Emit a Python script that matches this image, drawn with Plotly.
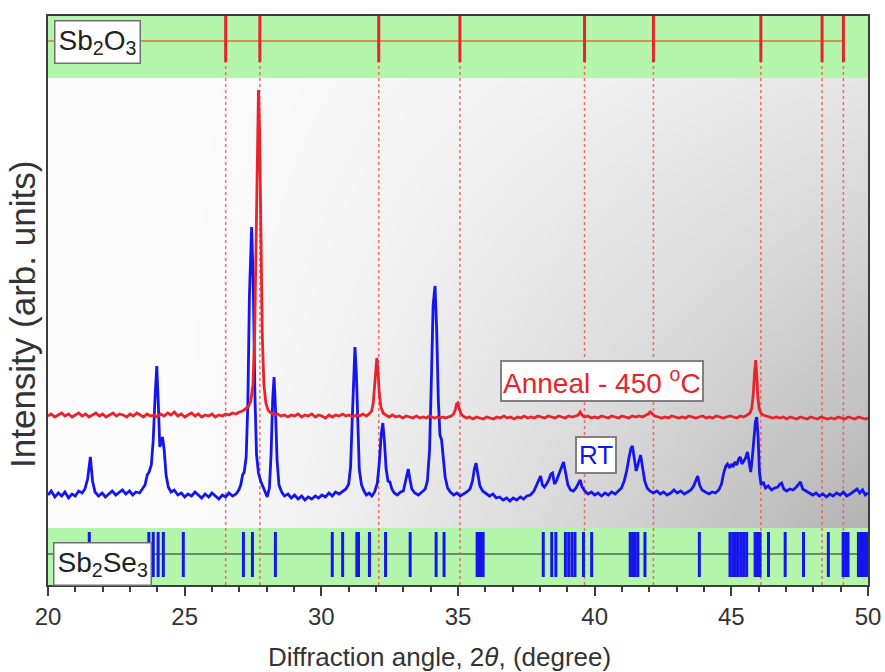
import base64
import struct
import zlib

import numpy as np
import plotly.graph_objects as go

# ---------------------------------------------------------------------------
# Data: XRD patterns (2-theta in degrees, intensity in arbitrary units,
# each pattern already carries its vertical display offset)
# ---------------------------------------------------------------------------
rt_angle = [
    20.00, 20.12, 20.25, 20.38, 20.50, 20.62, 20.75, 20.88, 21.00, 21.12, 21.25, 21.35, 21.45, 21.55, 21.63,
    21.72, 21.85, 21.98, 22.10, 22.22, 22.35, 22.48, 22.60, 22.72, 22.85, 22.98, 23.10, 23.22, 23.35, 23.45,
    23.55, 23.63, 23.70, 23.78, 23.85, 23.92, 23.98, 24.04, 24.09, 24.13, 24.19, 24.25, 24.32, 24.40, 24.50,
    24.62, 24.75, 24.88, 25.00, 25.12, 25.25, 25.38, 25.50, 25.62, 25.75, 25.88, 26.00, 26.12, 26.25, 26.38,
    26.50, 26.62, 26.75, 26.88, 26.98, 27.05, 27.12, 27.18, 27.25, 27.31, 27.37, 27.45, 27.51, 27.57, 27.63,
    27.70, 27.78, 27.87, 27.95, 28.02, 28.10, 28.16, 28.22, 28.27, 28.32, 28.38, 28.45, 28.55, 28.65, 28.78,
    28.90, 29.02, 29.15, 29.28, 29.40, 29.52, 29.65, 29.78, 29.90, 30.02, 30.15, 30.28, 30.40, 30.52, 30.65,
    30.78, 30.90, 31.00, 31.07, 31.13, 31.18, 31.23, 31.28, 31.33, 31.39, 31.47, 31.56, 31.65, 31.75, 31.85,
    31.95, 32.05, 32.12, 32.19, 32.25, 32.31, 32.37, 32.44, 32.51, 32.58, 32.67, 32.78, 32.90, 33.00, 33.07,
    33.13, 33.18, 33.24, 33.31, 33.42, 33.55, 33.68, 33.80, 33.88, 33.96, 34.03, 34.09, 34.16, 34.22, 34.28,
    34.34, 34.40, 34.46, 34.53, 34.62, 34.72, 34.84, 34.96, 35.08, 35.20, 35.32, 35.44, 35.53, 35.60, 35.66,
    35.72, 35.80, 35.90, 36.02, 36.15, 36.28, 36.40, 36.52, 36.65, 36.78, 36.90, 37.02, 37.15, 37.28, 37.40,
    37.52, 37.65, 37.78, 37.88, 37.95, 38.02, 38.09, 38.16, 38.24, 38.32, 38.40, 38.46, 38.53, 38.60, 38.68,
    38.76, 38.86, 38.94, 39.02, 39.12, 39.22, 39.32, 39.40, 39.47, 39.54, 39.64, 39.76, 39.88, 40.00, 40.12,
    40.25, 40.38, 40.50, 40.62, 40.75, 40.88, 40.98, 41.08, 41.17, 41.26, 41.33, 41.38, 41.45, 41.52, 41.60,
    41.68, 41.75, 41.83, 41.92, 42.02, 42.15, 42.28, 42.40, 42.52, 42.65, 42.78, 42.90, 43.02, 43.15, 43.28,
    43.40, 43.52, 43.62, 43.70, 43.77, 43.84, 43.93, 44.05, 44.18, 44.30, 44.42, 44.54, 44.64, 44.72, 44.80,
    44.86, 44.93, 45.00, 45.06, 45.13, 45.20, 45.27, 45.33, 45.39, 45.45, 45.52, 45.59, 45.65, 45.71, 45.77,
    45.83, 45.88, 45.93, 45.98, 46.03, 46.09, 46.17, 46.25, 46.35, 46.47, 46.58, 46.70, 46.78, 46.84, 46.92,
    47.02, 47.14, 47.26, 47.38, 47.47, 47.53, 47.61, 47.72, 47.85, 47.98, 48.10, 48.22, 48.35, 48.48, 48.60,
    48.72, 48.85, 48.98, 49.10, 49.22, 49.35, 49.48, 49.60, 49.70, 49.80, 49.90, 50.00,
]
rt_counts = [
    90, 94, 88, 92, 89, 93, 87, 91, 89, 94, 92, 96, 106, 128, 104,
    93, 89, 92, 88, 91, 94, 90, 93, 95, 91, 94, 90, 93, 92, 96,
    100, 110, 113, 120, 145, 190, 219, 178, 138, 142, 148, 135, 110, 98, 93,
    95, 90, 92, 88, 91, 89, 93, 90, 87, 91, 88, 92, 89, 86, 90,
    88, 92, 89, 91, 95, 100, 110, 113, 128, 180, 290, 358, 300, 190, 130,
    112, 104, 98, 92, 88, 97, 130, 185, 208, 178, 125, 100, 93, 89, 91,
    87, 90, 86, 89, 85, 88, 86, 89, 87, 90, 88, 92, 89, 93, 91,
    94, 96, 101, 118, 165, 215, 238, 212, 155, 115, 100, 94, 90, 92, 89,
    93, 102, 122, 150, 162, 143, 116, 104, 103, 96, 92, 90, 93, 94, 102,
    112, 116, 106, 96, 92, 90, 93, 96, 104, 135, 210, 280, 299, 255, 185,
    150, 145, 128, 108, 97, 93, 90, 92, 89, 91, 93, 96, 104, 116, 122,
    112, 99, 94, 92, 89, 91, 87, 88, 85, 87, 84, 87, 85, 88, 86,
    89, 90, 94, 100, 106, 109, 100, 98, 101, 105, 111, 112, 101, 104, 110,
    116, 123, 112, 100, 95, 94, 97, 102, 105, 98, 94, 91, 93, 90, 92,
    89, 92, 90, 93, 91, 94, 97, 104, 114, 128, 137, 139, 124, 114, 122,
    130, 118, 104, 97, 94, 92, 94, 91, 93, 90, 92, 95, 92, 94, 91,
    93, 95, 99, 105, 109, 100, 95, 93, 91, 93, 92, 95, 101, 112, 119,
    121, 117, 121, 118, 123, 120, 126, 128, 121, 124, 127, 133, 124, 113, 128,
    150, 163, 168, 148, 112, 100, 103, 97, 99, 95, 97, 98, 101, 102, 96,
    94, 96, 95, 98, 101, 103, 96, 94, 92, 90, 92, 89, 91, 88, 91,
    89, 92, 90, 93, 89, 91, 94, 96, 92, 95, 90, 92,
]

anneal_angle = [
    20.00, 20.12, 20.25, 20.38, 20.50, 20.62, 20.75, 20.88, 21.00, 21.12, 21.25, 21.38, 21.50, 21.62, 21.75,
    21.88, 22.00, 22.12, 22.25, 22.38, 22.50, 22.62, 22.75, 22.88, 23.00, 23.12, 23.25, 23.38, 23.50, 23.62,
    23.75, 23.88, 24.00, 24.12, 24.25, 24.38, 24.50, 24.62, 24.75, 24.88, 25.00, 25.12, 25.25, 25.38, 25.50,
    25.62, 25.75, 25.88, 26.00, 26.12, 26.25, 26.38, 26.50, 26.62, 26.75, 26.88, 27.00, 27.12, 27.22, 27.32,
    27.42, 27.50, 27.56, 27.62, 27.67, 27.70, 27.74, 27.79, 27.84, 27.90, 27.97, 28.05, 28.15, 28.27, 28.40,
    28.52, 28.65, 28.78, 28.90, 29.02, 29.15, 29.28, 29.40, 29.52, 29.65, 29.78, 29.90, 30.02, 30.15, 30.28,
    30.40, 30.52, 30.65, 30.78, 30.90, 31.02, 31.15, 31.28, 31.40, 31.52, 31.65, 31.75, 31.84, 31.90, 31.95,
    32.00, 32.03, 32.07, 32.12, 32.18, 32.26, 32.36, 32.48, 32.60, 32.72, 32.85, 32.98, 33.10, 33.22, 33.35,
    33.48, 33.60, 33.72, 33.85, 33.95, 34.05, 34.15, 34.25, 34.35, 34.45, 34.55, 34.65, 34.75, 34.84, 34.90,
    34.95, 34.99, 35.04, 35.10, 35.18, 35.30, 35.42, 35.55, 35.68, 35.80, 35.92, 36.05, 36.18, 36.30, 36.42,
    36.55, 36.68, 36.80, 36.92, 37.05, 37.18, 37.30, 37.42, 37.55, 37.68, 37.80, 37.92, 38.05, 38.18, 38.30,
    38.42, 38.55, 38.68, 38.80, 38.92, 39.05, 39.18, 39.30, 39.40, 39.47, 39.54, 39.62, 39.75, 39.88, 40.00,
    40.12, 40.25, 40.38, 40.50, 40.62, 40.75, 40.88, 41.00, 41.12, 41.25, 41.38, 41.50, 41.62, 41.75, 41.88,
    41.96, 42.03, 42.10, 42.20, 42.32, 42.45, 42.58, 42.70, 42.82, 42.95, 43.08, 43.20, 43.32, 43.45, 43.58,
    43.70, 43.82, 43.95, 44.08, 44.20, 44.32, 44.45, 44.58, 44.70, 44.82, 44.95, 45.08, 45.20, 45.32, 45.45,
    45.58, 45.68, 45.75, 45.80, 45.85, 45.89, 45.93, 45.97, 46.02, 46.08, 46.16, 46.28, 46.40, 46.52, 46.65,
    46.78, 46.90, 47.02, 47.15, 47.28, 47.40, 47.52, 47.65, 47.78, 47.90, 48.02, 48.15, 48.28, 48.40, 48.52,
    48.65, 48.78, 48.90, 49.02, 49.15, 49.28, 49.40, 49.52, 49.65, 49.78, 49.90, 50.00,
]
anneal_counts = [
    169, 171, 168, 170, 172, 169, 171, 168, 170, 172, 169, 171, 168, 170, 172,
    169, 171, 168, 170, 172, 169, 171, 170, 168, 171, 169, 172, 170, 168, 171,
    169, 170, 168, 171, 169, 172, 170, 173, 169, 171, 168, 170, 172, 169, 171,
    168, 170, 169, 171, 168, 170, 169, 171, 170, 172, 171, 173, 174, 176, 178,
    184, 200, 250, 360, 460, 495, 455, 350, 250, 200, 182, 175, 172, 170, 171,
    169, 170, 168, 170, 169, 171, 168, 170, 169, 171, 168, 170, 169, 167, 170,
    168, 170, 169, 171, 169, 170, 168, 170, 169, 171, 169, 171, 174, 182, 200,
    222, 227, 215, 192, 178, 172, 170, 168, 170, 168, 169, 167, 169, 168, 167,
    169, 167, 168, 167, 169, 168, 167, 168, 167, 168, 167, 168, 169, 171, 175,
    181, 182, 177, 172, 169, 167, 168, 166, 168, 167, 166, 168, 167, 166, 168,
    167, 169, 167, 168, 166, 168, 167, 169, 167, 168, 167, 169, 168, 167, 169,
    168, 167, 169, 168, 167, 169, 168, 169, 170, 173, 170, 168, 169, 167, 168,
    167, 169, 168, 167, 169, 168, 167, 169, 168, 167, 169, 168, 169, 168, 170,
    171, 173, 171, 169, 168, 167, 168, 167, 169, 168, 167, 168, 167, 169, 168,
    167, 168, 169, 167, 168, 167, 169, 168, 167, 168, 169, 168, 167, 169, 168,
    170, 172, 177, 190, 212, 225, 210, 188, 176, 172, 170, 169, 168, 167, 168,
    167, 168, 166, 168, 167, 166, 168, 167, 166, 168, 167, 166, 168, 167, 166,
    167, 166, 168, 167, 166, 168, 167, 166, 168, 167, 166, 167,
]

# Reference line positions (2-theta, degrees)
sb2o3_ref = [26.50, 27.75, 32.10, 35.07, 39.63, 42.15, 46.08, 48.32, 49.10]
sb2se3_ref = [
    23.69, 23.85, 24.03, 24.22, 24.95, 27.15, 27.48, 28.32, 30.40, 30.78,
    31.30, 31.36, 31.76, 32.35, 33.25, 34.20, 34.49, 35.70, 35.77, 35.84,
    35.92, 38.12, 38.43, 38.58, 38.93, 39.05, 39.17, 39.28, 39.59, 39.89,
    41.30, 41.39, 41.48, 41.58, 41.84, 43.83, 44.95, 45.05, 45.15, 45.25,
    45.35, 45.45, 45.56, 45.87, 45.96, 46.05, 46.36, 46.97, 47.64, 48.55,
    49.09, 49.18, 49.27, 49.65, 49.73, 49.81, 49.89, 49.97,
]
sb2se3_ref_weak = [21.51]

x_ticks = [20, 25, 30, 35, 40, 45, 50]

# ---------------------------------------------------------------------------
# Layout constants (y axis is in the same arbitrary units as the patterns)
# ---------------------------------------------------------------------------
Y_MAX = 569
TOP_BAND = (507, Y_MAX)
BOT_BAND = (0, 57)
TOP_TICK = (523, Y_MAX)
BOT_TICK = (8, 53)
BOT_TICK_WEAK = (40, 53)
TOP_MID = 544
BOT_MID = 31

GREEN = "#b3f5aa"
RED = "#e8232b"
BLUE = "#1515ee"
FRAME = "#3c3c3c"
FONT = "Liberation Sans, Arial, sans-serif"


def gradient_png(w, h):
    """Grey shading that darkens towards the lower right, as a PNG data URI."""
    xs = np.linspace(0, 1, w)[None, :]
    ys = np.linspace(0, 1, h)[:, None]
    dark = np.clip(xs - 0.15, 0, None) ** 1.2 * (0.3 + 0.7 * ys) * 88.0
    shade = np.clip(252.0 - dark, 0, 255).astype(np.uint8)
    rgb = np.repeat(shade[:, :, None], 3, axis=2)
    raw = b"".join(b"\x00" + rgb[r].tobytes() for r in range(h))

    def chunk(tag, data):
        c = struct.pack(">I", len(data)) + tag + data
        return c + struct.pack(">I", zlib.crc32(tag + data) & 0xFFFFFFFF)

    png = b"\x89PNG\r\n\x1a\n"
    png += chunk(b"IHDR", struct.pack(">IIBBBBB", w, h, 8, 2, 0, 0, 0))
    png += chunk(b"IDAT", zlib.compress(raw, 9))
    png += chunk(b"IEND", b"")
    return "data:image/png;base64," + base64.b64encode(png).decode()


def stick_xy(positions, y0, y1):
    xs, ys = [], []
    for p in positions:
        xs += [p, p, None]
        ys += [y0, y1, None]
    return xs, ys


fig = go.Figure()

# dotted guides through the Sb2O3 reference positions
gx, gy = stick_xy(sb2o3_ref, 0, TOP_TICK[0])
fig.add_trace(go.Scatter(x=gx, y=gy, mode="lines", hoverinfo="skip",
                         line=dict(color="rgba(232,90,90,0.85)", width=1.5, dash="dot")))

# reference sticks
tx, ty = stick_xy(sb2o3_ref, *TOP_TICK)
fig.add_trace(go.Scatter(x=tx, y=ty, mode="lines", line=dict(color=RED, width=3)))
bx, by = stick_xy(sb2se3_ref, *BOT_TICK)
fig.add_trace(go.Scatter(x=bx, y=by, mode="lines", line=dict(color=BLUE, width=3)))
wx, wy = stick_xy(sb2se3_ref_weak, *BOT_TICK_WEAK)
fig.add_trace(go.Scatter(x=wx, y=wy, mode="lines", line=dict(color=BLUE, width=3)))

# patterns
fig.add_trace(go.Scatter(x=rt_angle, y=rt_counts, mode="lines", name="RT",
                         line=dict(color=BLUE, width=2.8)))
fig.add_trace(go.Scatter(x=anneal_angle, y=anneal_counts, mode="lines", name="Anneal - 450 °C",
                         line=dict(color=RED, width=2.8)))

shapes = [
    dict(type="rect", xref="x domain", yref="y", x0=0, x1=1, y0=TOP_BAND[0], y1=TOP_BAND[1],
         fillcolor=GREEN, line=dict(width=0), layer="below"),
    dict(type="rect", xref="x domain", yref="y", x0=0, x1=1, y0=BOT_BAND[0], y1=BOT_BAND[1],
         fillcolor=GREEN, line=dict(width=0), layer="below"),
    dict(type="line", xref="x", yref="y", x0=20, x1=max(sb2o3_ref), y0=TOP_MID, y1=TOP_MID,
         line=dict(color="#e0703a", width=1.5), layer="below"),
    dict(type="line", xref="x domain", yref="y", x0=0, x1=1, y0=BOT_MID, y1=BOT_MID,
         line=dict(color="#4f6b4f", width=1.5), layer="below"),
]

images = [dict(source=gradient_png(820, 450), xref="x domain", yref="y",
               x=0, y=TOP_BAND[0], sizex=1, sizey=TOP_BAND[0] - BOT_BAND[1],
               xanchor="left", yanchor="top", sizing="stretch", layer="below")]

annotations = [
    dict(text="Sb<sub>2</sub>O<sub>3</sub>", xref="x", yref="y", x=20.22, y=543,
         xanchor="left", yanchor="middle", showarrow=False,
         font=dict(family=FONT, size=28, color="#222"),
         bgcolor="white", bordercolor="#707070", borderwidth=1.5, borderpad=3),
    dict(text="Sb<sub>2</sub>Se<sub>3</sub>", xref="x", yref="y", x=20.18, y=21,
         xanchor="left", yanchor="middle", showarrow=False,
         font=dict(family=FONT, size=28, color="#222"),
         bgcolor="white", bordercolor="#707070", borderwidth=1.5, borderpad=3),
    dict(text="Anneal - 450 <sup>o</sup>C", xref="x", yref="y", x=40.25, y=204,
         xanchor="center", yanchor="middle", showarrow=False,
         font=dict(family=FONT, size=28, color=RED),
         bgcolor="white", bordercolor="#808080", borderwidth=2, borderpad=1),
    dict(text="RT", xref="x", yref="y", x=40.05, y=130,
         xanchor="center", yanchor="middle", showarrow=False,
         font=dict(family=FONT, size=26, color=BLUE),
         bgcolor="white", bordercolor="#808080", borderwidth=2, borderpad=2),
    dict(text="Intensity (arb. units)", xref="paper", yref="paper",
         x=-26 / 820, y=(585 - 315) / 569, xanchor="center", yanchor="middle",
         textangle=-90, showarrow=False, font=dict(family=FONT, size=35, color="#333")),
    dict(text="Diffraction angle, 2<i>θ</i>, (degree)", xref="paper", yref="paper",
         x=(439 - 48) / 820, y=-(657 - 585) / 569, xanchor="center", yanchor="middle",
         showarrow=False, font=dict(family=FONT, size=26, color="#333")),
]

fig.update_layout(
    width=885, height=672,
    margin=dict(l=48, r=17, t=16, b=87, autoexpand=False),
    paper_bgcolor="white", plot_bgcolor="white",
    showlegend=False,
    shapes=shapes, images=images, annotations=annotations,
    xaxis=dict(range=[20, 50], tickvals=x_ticks, ticks="outside", ticklen=9, tickwidth=2,
               tickcolor=FRAME, minor=dict(dtick=1, ticks="outside", ticklen=5, tickwidth=1.5,
                                           tickcolor=FRAME),
               showline=True, linecolor=FRAME, linewidth=2, mirror=True, showgrid=False,
               zeroline=False, automargin=False,
               tickfont=dict(family=FONT, size=24, color="#333")),
    yaxis=dict(range=[0, Y_MAX], showticklabels=False, ticks="", showline=True,
               linecolor=FRAME, linewidth=2, mirror=True, showgrid=False, zeroline=False,
               automargin=False),
)

fig.write_html("out.html")
